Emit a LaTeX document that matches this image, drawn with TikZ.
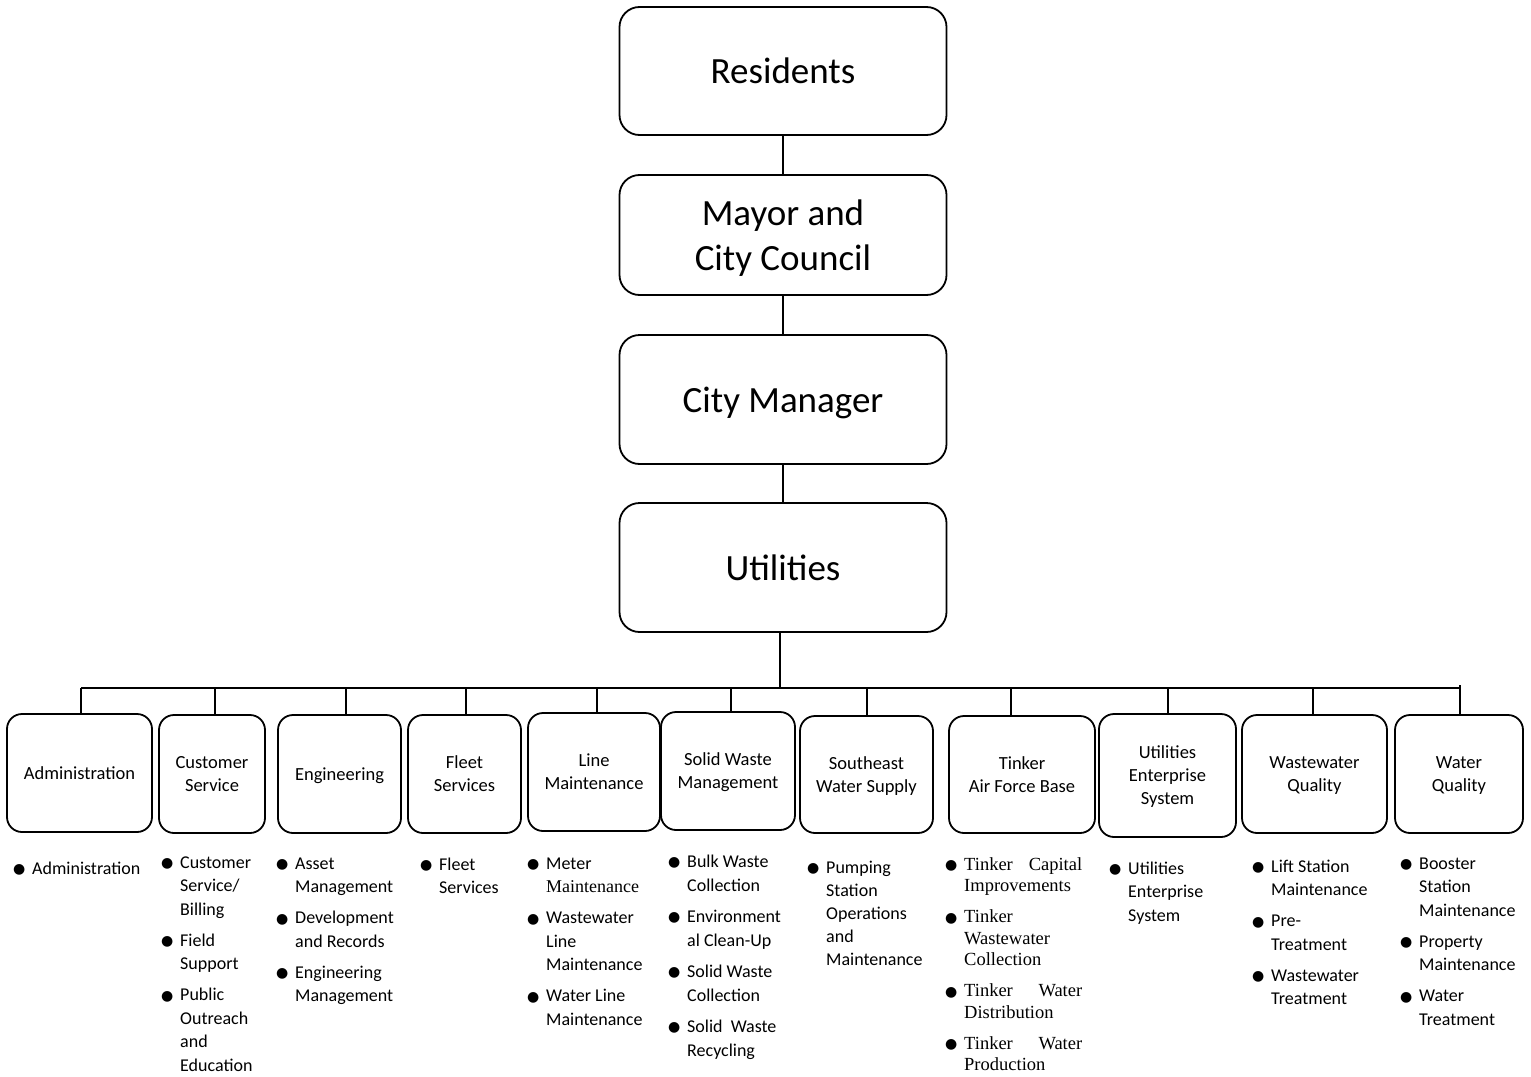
\documentclass[tikz,border=0pt]{standalone}
\usepackage{fontspec}
\setmainfont{Carlito}
\newfontfamily\tnr{Liberation Serif}
\newfontfamily\symfont{DejaVu Sans}
\newcommand{\dotmark}{\makebox[18pt][l]{\hspace{-1pt}\raisebox{0.5pt}{\symfont\fontsize{14}{14}\selectfont ●}}}
\newcommand{\subunits}[1]{\begin{tabular}[t]{@{}l@{}l@{}}#1\end{tabular}}

\tikzset{
  headbox/.style={draw, line width=1.8pt, rounded corners=20pt, minimum width=327pt,
    align=center, inner sep=0pt, text depth=0pt, font=\fontsize{37}{45}\selectfont},
  deptbox/.style={draw, line width=1.8pt, rounded corners=15pt, minimum height=118pt,
    align=center, inner sep=0pt, text depth=0pt, font=\fontsize{18.5}{23}\selectfont},
  dutylist/.style={anchor=base west, inner sep=0pt, font=\fontsize{18}{23.5}\selectfont},
  wire/.style={line width=2pt}
}

\begin{document}
\begin{tikzpicture}[x=1pt, y=-1pt]
  \useasboundingbox (0,0) rectangle (1531,1076);

  % top of the chain
  \node[headbox, minimum height=128pt] (res) at (783,71) {Residents};
  \node[headbox, minimum height=120pt] (mayor) at (783,235) {Mayor and\\City Council};
  \node[headbox, minimum height=129pt] (mgr) at (783,399.5) {City Manager};
  \node[headbox, minimum height=129pt] (uti) at (783,567.5) {Utilities};

  \draw[wire] (res) -- (mayor);
  \draw[wire] (mayor) -- (mgr);
  \draw[wire] (mgr) -- (uti);

  % divisions
  \node[deptbox, minimum width=145pt] (admin) at (79.5,773) {Administration};
  \node[deptbox, minimum width=106pt] (cust) at (212,774) {Customer\\Service};
  \node[deptbox, minimum width=123pt] (eng) at (339.5,774) {Engineering};
  \node[deptbox, minimum width=113pt] (fleet) at (464.5,774) {Fleet\\Services};
  \node[deptbox, minimum width=132pt] (line) at (594,772) {Line\\Maintenance};
  \node[deptbox, minimum width=134pt] (solid) at (728,771) {Solid Waste\\Management};
  \node[deptbox, minimum width=133pt, minimum height=117pt] (se) at (866.5,774.5) {Southeast\\Water Supply};
  \node[deptbox, minimum width=146pt, minimum height=117pt] (tinker) at (1022,774.5) {Tinker\\Air Force Base};
  \node[deptbox, minimum width=137pt, minimum height=123pt] (ues) at (1167.5,775.5) {Utilities\\Enterprise\\System};
  \node[deptbox, minimum width=145pt] (wwq) at (1314.5,774) {Wastewater\\Quality};
  \node[deptbox, minimum width=128pt] (wq) at (1459,774) {Water\\Quality};

  % bus
  \coordinate (hub) at (780,688);
  \coordinate (busL) at (81,688);
  \coordinate (busR) at (1460,688);
  \draw[wire] (hub |- uti.south) -- (hub);
  \draw[wire] (busL) -- (busR);
  \foreach \d/\x in {admin/81, cust/215, eng/346, fleet/466, line/597, solid/731,
                     se/867, tinker/1011, ues/1168, wwq/1313}
    \draw[wire] (\x,688) -- (\x,0 |- \d.north);
  \draw[wire] (1460,685) -- (busR |- wq.north);

  % sections under each division
  \node[dutylist] (adminL) at (14,874) {\subunits{\dotmark & Administration}};
  \node[dutylist] (custL) at (162,868) {\subunits{\dotmark & Customer\\ & Service/\\ & Billing\\[7.5pt]
    \dotmark & Field\\ & Support\\[7.5pt]
    \dotmark & Public\\ & Outreach\\ & and\\ & Education}};
  \node[dutylist] (engL) at (277,869) {\subunits{\dotmark & Asset\\ & Management\\[7.5pt]
    \dotmark & Development\\ & and Records\\[7.5pt]
    \dotmark & Engineering\\ & Management}};
  \node[dutylist] (fleetL) at (421,870) {\subunits{\dotmark & Fleet\\ & Services}};
  \node[dutylist] (lineL) at (528,869) {\subunits{\dotmark & Meter\\ & {\tnr Maintenance}\\[7.5pt]
    \dotmark & Wastewater\\ & Line\\ & Maintenance\\[7.5pt]
    \dotmark & Water Line\\ & Maintenance}};
  \node[dutylist, font=\fontsize{18}{24}\selectfont] (solidL) at (669,867) {\subunits{\dotmark & Bulk Waste\\ & Collection\\[7pt]
    \dotmark & Environment\\ & al Clean-Up\\[7pt]
    \dotmark & Solid Waste\\ & Collection\\[7pt]
    \dotmark & Solid~ Waste\\ & Recycling}};
  \node[dutylist, font=\fontsize{18}{23}\selectfont] (seL) at (808,873) {\subunits{\dotmark & Pumping\\ & Station\\ & Operations\\ & and\\ & Maintenance}};
  \node[dutylist, font=\tnr\fontsize{18.5}{21.5}\selectfont] (tinkerL) at (946,870) {\subunits{\dotmark & \makebox[118pt][s]{Tinker Capital}\\ & Improvements\\[9.5pt]
    \dotmark & Tinker\\ & Wastewater\\ & Collection\\[9.5pt]
    \dotmark & \makebox[118pt][s]{Tinker Water}\\ & Distribution\\[9.5pt]
    \dotmark & \makebox[118pt][s]{Tinker Water}\\ & Production}};
  \node[dutylist] (uesL) at (1110,874) {\subunits{\dotmark & Utilities\\ & Enterprise\\ & System}};
  \node[dutylist] (wwqL) at (1253,872) {\subunits{\dotmark & Lift Station\\ & Maintenance\\[7.5pt]
    \dotmark & Pre-\\ & Treatment\\[7.5pt]
    \dotmark & Wastewater\\ & Treatment}};
  \node[dutylist] (wqL) at (1401,869) {\subunits{\dotmark & Booster\\ & Station\\ & Maintenance\\[7.5pt]
    \dotmark & Property\\ & Maintenance\\[7.5pt]
    \dotmark & Water\\ & Treatment}};
\end{tikzpicture}
\end{document}
